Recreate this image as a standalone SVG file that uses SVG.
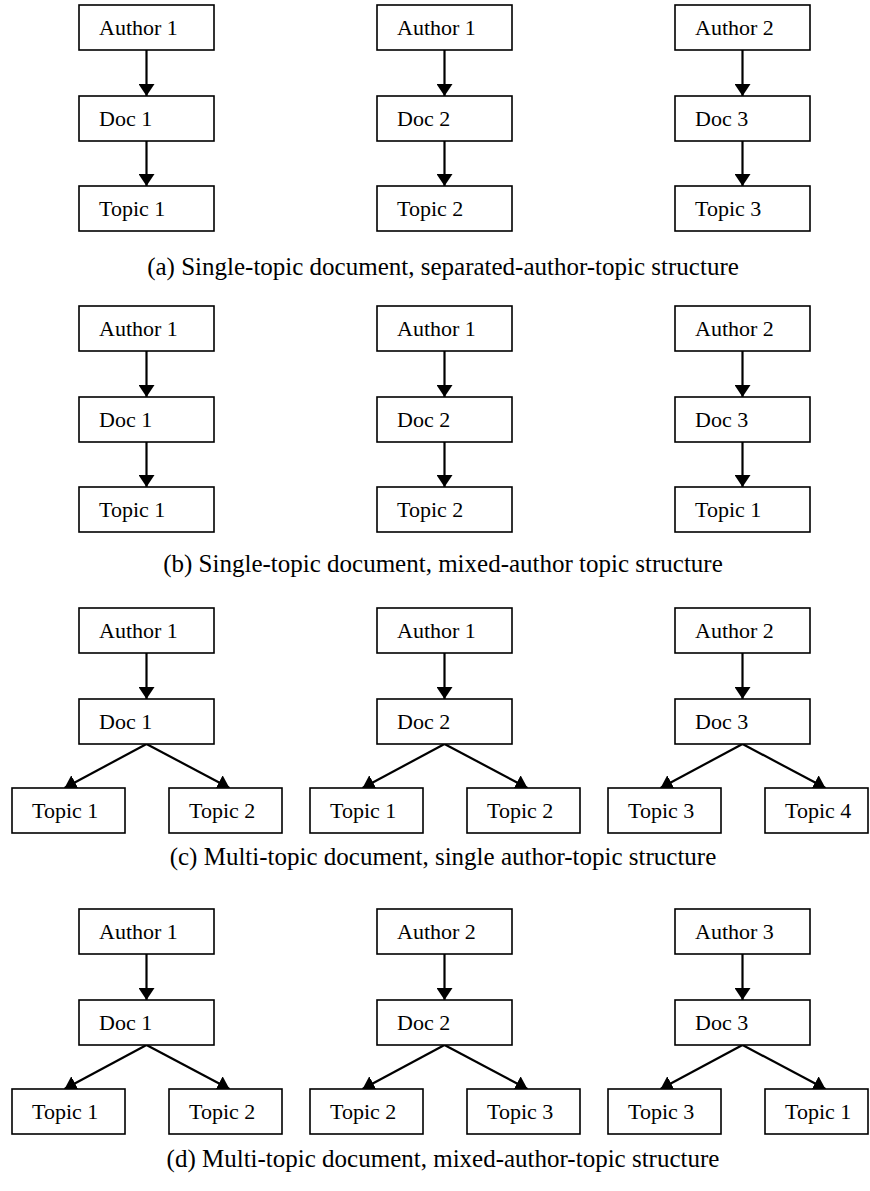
<svg xmlns="http://www.w3.org/2000/svg" width="870" height="1191" viewBox="0 0 870 1191">
<style>
rect.n{fill:#fff;stroke:#000;stroke-width:1.6}
text{font-family:'Liberation Serif','Times New Roman','DejaVu Serif',serif;fill:#000}
text.t{font-size:22px}
text.cap{font-size:25px;text-anchor:middle}
#connectors line{stroke:#000;stroke-width:2.2;marker-end:url(#ah)}
</style>
<defs>
<marker id="ah" markerUnits="userSpaceOnUse" viewBox="0 0 12 16" refX="12" refY="8" markerWidth="12" markerHeight="16" orient="auto"><path d="M0,0 L12,8 L0,16 z" fill="#000"/></marker>
</defs>
<rect width="870" height="1191" fill="#fff"/>
<g id="connectors">
<line x1="146.5" y1="50" x2="146.5" y2="96"/><line x1="146.5" y1="141" x2="146.5" y2="186"/>
<line x1="444.5" y1="50" x2="444.5" y2="96"/><line x1="444.5" y1="141" x2="444.5" y2="186"/>
<line x1="742.5" y1="50" x2="742.5" y2="96"/><line x1="742.5" y1="141" x2="742.5" y2="186"/>
<line x1="146.5" y1="351" x2="146.5" y2="397"/><line x1="146.5" y1="442" x2="146.5" y2="487"/>
<line x1="444.5" y1="351" x2="444.5" y2="397"/><line x1="444.5" y1="442" x2="444.5" y2="487"/>
<line x1="742.5" y1="351" x2="742.5" y2="397"/><line x1="742.5" y1="442" x2="742.5" y2="487"/>
<line x1="146.5" y1="653" x2="146.5" y2="699"/><line x1="146.5" y1="744" x2="64.5" y2="788"/><line x1="146.5" y1="744" x2="229.5" y2="788"/>
<line x1="444.5" y1="653" x2="444.5" y2="699"/><line x1="444.5" y1="744" x2="362.5" y2="788"/><line x1="444.5" y1="744" x2="527.5" y2="788"/>
<line x1="742.5" y1="653" x2="742.5" y2="699"/><line x1="742.5" y1="744" x2="660.5" y2="788"/><line x1="742.5" y1="744" x2="825.5" y2="788"/>
<line x1="146.5" y1="954" x2="146.5" y2="1000"/><line x1="146.5" y1="1045" x2="64.5" y2="1089"/><line x1="146.5" y1="1045" x2="229.5" y2="1089"/>
<line x1="444.5" y1="954" x2="444.5" y2="1000"/><line x1="444.5" y1="1045" x2="362.5" y2="1089"/><line x1="444.5" y1="1045" x2="527.5" y2="1089"/>
<line x1="742.5" y1="954" x2="742.5" y2="1000"/><line x1="742.5" y1="1045" x2="660.5" y2="1089"/><line x1="742.5" y1="1045" x2="825.5" y2="1089"/>
</g>
<g font-family="'Liberation Serif', 'Times New Roman', serif">
<!-- Row a -->
<g id="a-author1"><rect class="n" x="79" y="5" width="135" height="45"/><text class="t" x="99" y="35">Author 1</text></g>
<g id="a-doc1"><rect class="n" x="79" y="96" width="135" height="45"/><text class="t" x="99" y="126">Doc 1</text></g>
<g id="a-topic1"><rect class="n" x="79" y="186" width="135" height="45"/><text class="t" x="99" y="216">Topic 1</text></g>
<g id="a-author1b"><rect class="n" x="377" y="5" width="135" height="45"/><text class="t" x="397" y="35">Author 1</text></g>
<g id="a-doc2"><rect class="n" x="377" y="96" width="135" height="45"/><text class="t" x="397" y="126">Doc 2</text></g>
<g id="a-topic2"><rect class="n" x="377" y="186" width="135" height="45"/><text class="t" x="397" y="216">Topic 2</text></g>
<g id="a-author2"><rect class="n" x="675" y="5" width="135" height="45"/><text class="t" x="695" y="35">Author 2</text></g>
<g id="a-doc3"><rect class="n" x="675" y="96" width="135" height="45"/><text class="t" x="695" y="126">Doc 3</text></g>
<g id="a-topic3"><rect class="n" x="675" y="186" width="135" height="45"/><text class="t" x="695" y="216">Topic 3</text></g>
<text class="cap" x="443" y="275">(a) Single-topic document, separated-author-topic structure</text>
<!-- Row b -->
<g id="b-author1"><rect class="n" x="79" y="306" width="135" height="45"/><text class="t" x="99" y="336">Author 1</text></g>
<g id="b-doc1"><rect class="n" x="79" y="397" width="135" height="45"/><text class="t" x="99" y="427">Doc 1</text></g>
<g id="b-topic1"><rect class="n" x="79" y="487" width="135" height="45"/><text class="t" x="99" y="517">Topic 1</text></g>
<g id="b-author1b"><rect class="n" x="377" y="306" width="135" height="45"/><text class="t" x="397" y="336">Author 1</text></g>
<g id="b-doc2"><rect class="n" x="377" y="397" width="135" height="45"/><text class="t" x="397" y="427">Doc 2</text></g>
<g id="b-topic2"><rect class="n" x="377" y="487" width="135" height="45"/><text class="t" x="397" y="517">Topic 2</text></g>
<g id="b-author2"><rect class="n" x="675" y="306" width="135" height="45"/><text class="t" x="695" y="336">Author 2</text></g>
<g id="b-doc3"><rect class="n" x="675" y="397" width="135" height="45"/><text class="t" x="695" y="427">Doc 3</text></g>
<g id="b-topic1c"><rect class="n" x="675" y="487" width="135" height="45"/><text class="t" x="695" y="517">Topic 1</text></g>
<text class="cap" x="443" y="572">(b) Single-topic document, mixed-author topic structure</text>
<!-- Row c -->
<g id="c-author1"><rect class="n" x="79" y="608" width="135" height="45"/><text class="t" x="99" y="638">Author 1</text></g>
<g id="c-doc1"><rect class="n" x="79" y="699" width="135" height="45"/><text class="t" x="99" y="729">Doc 1</text></g>
<g id="c-topic1"><rect class="n" x="12" y="788" width="113" height="45"/><text class="t" x="32" y="818">Topic 1</text></g>
<g id="c-topic2"><rect class="n" x="169" y="788" width="113" height="45"/><text class="t" x="189" y="818">Topic 2</text></g>
<g id="c-author1b"><rect class="n" x="377" y="608" width="135" height="45"/><text class="t" x="397" y="638">Author 1</text></g>
<g id="c-doc2"><rect class="n" x="377" y="699" width="135" height="45"/><text class="t" x="397" y="729">Doc 2</text></g>
<g id="c-topic1b"><rect class="n" x="310" y="788" width="113" height="45"/><text class="t" x="330" y="818">Topic 1</text></g>
<g id="c-topic2b"><rect class="n" x="467" y="788" width="113" height="45"/><text class="t" x="487" y="818">Topic 2</text></g>
<g id="c-author2"><rect class="n" x="675" y="608" width="135" height="45"/><text class="t" x="695" y="638">Author 2</text></g>
<g id="c-doc3"><rect class="n" x="675" y="699" width="135" height="45"/><text class="t" x="695" y="729">Doc 3</text></g>
<g id="c-topic3"><rect class="n" x="608" y="788" width="113" height="45"/><text class="t" x="628" y="818">Topic 3</text></g>
<g id="c-topic4"><rect class="n" x="765" y="788" width="103" height="45"/><text class="t" x="785" y="818">Topic 4</text></g>
<text class="cap" x="443" y="865">(c) Multi-topic document, single author-topic structure</text>
<!-- Row d -->
<g id="d-author1"><rect class="n" x="79" y="909" width="135" height="45"/><text class="t" x="99" y="939">Author 1</text></g>
<g id="d-doc1"><rect class="n" x="79" y="1000" width="135" height="45"/><text class="t" x="99" y="1030">Doc 1</text></g>
<g id="d-topic1"><rect class="n" x="12" y="1089" width="113" height="45"/><text class="t" x="32" y="1119">Topic 1</text></g>
<g id="d-topic2"><rect class="n" x="169" y="1089" width="113" height="45"/><text class="t" x="189" y="1119">Topic 2</text></g>
<g id="d-author2"><rect class="n" x="377" y="909" width="135" height="45"/><text class="t" x="397" y="939">Author 2</text></g>
<g id="d-doc2"><rect class="n" x="377" y="1000" width="135" height="45"/><text class="t" x="397" y="1030">Doc 2</text></g>
<g id="d-topic2b"><rect class="n" x="310" y="1089" width="113" height="45"/><text class="t" x="330" y="1119">Topic 2</text></g>
<g id="d-topic3"><rect class="n" x="467" y="1089" width="113" height="45"/><text class="t" x="487" y="1119">Topic 3</text></g>
<g id="d-author3"><rect class="n" x="675" y="909" width="135" height="45"/><text class="t" x="695" y="939">Author 3</text></g>
<g id="d-doc3"><rect class="n" x="675" y="1000" width="135" height="45"/><text class="t" x="695" y="1030">Doc 3</text></g>
<g id="d-topic3b"><rect class="n" x="608" y="1089" width="113" height="45"/><text class="t" x="628" y="1119">Topic 3</text></g>
<g id="d-topic1b"><rect class="n" x="765" y="1089" width="103" height="45"/><text class="t" x="785" y="1119">Topic 1</text></g>
<text class="cap" x="443" y="1167">(d) Multi-topic document, mixed-author-topic structure</text>
</g>
</svg>
